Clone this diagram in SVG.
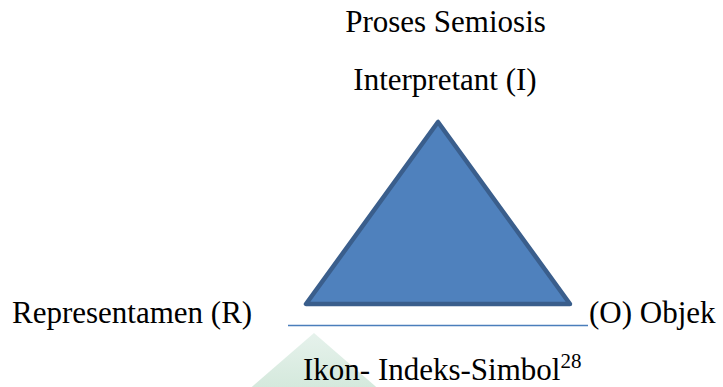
<svg xmlns="http://www.w3.org/2000/svg" width="723" height="387" viewBox="0 0 723 387">
  <style>
    .t { font-family: "Liberation Serif", "Times New Roman", serif; font-size: 31px; fill: #000; }
    .sup { font-size: 21px; }
  </style>
  <defs>
    <linearGradient id="wm" x1="0" y1="0" x2="0" y2="1">
      <stop offset="0" stop-color="#e6f2ec"/>
      <stop offset="1" stop-color="#d3e8db"/>
    </linearGradient>
  </defs>
  <rect width="723" height="387" fill="#ffffff"/>
  <polygon points="314,333 246,392 382,392" fill="url(#wm)"/>

  <g id="title"><text class="t" x="445.5" y="32" text-anchor="middle">Proses Semiosis</text></g>
  <g id="interpretant"><text class="t" x="445" y="90" text-anchor="middle">Interpretant (I)</text></g>

  <g id="triangle">
    <polygon points="438,122 306,304 570,304" fill="#4f81bd" stroke="#3a5e8c" stroke-width="4.5" stroke-linejoin="round"/>
  </g>

  <g id="connectors">
    <line x1="288" y1="325.5" x2="588" y2="325.5" stroke="#4a7ebb" stroke-width="1.6"/>
  </g>

  <g id="representamen"><text class="t" x="12" y="323">Representamen (R)</text></g>
  <g id="objek"><text class="t" x="589" y="323">(O) Objek</text></g>
  <g id="ikon"><text class="t" x="303" y="380">Ikon- Indeks-Simbol<tspan class="sup" dy="-12">28</tspan></text></g>
</svg>
